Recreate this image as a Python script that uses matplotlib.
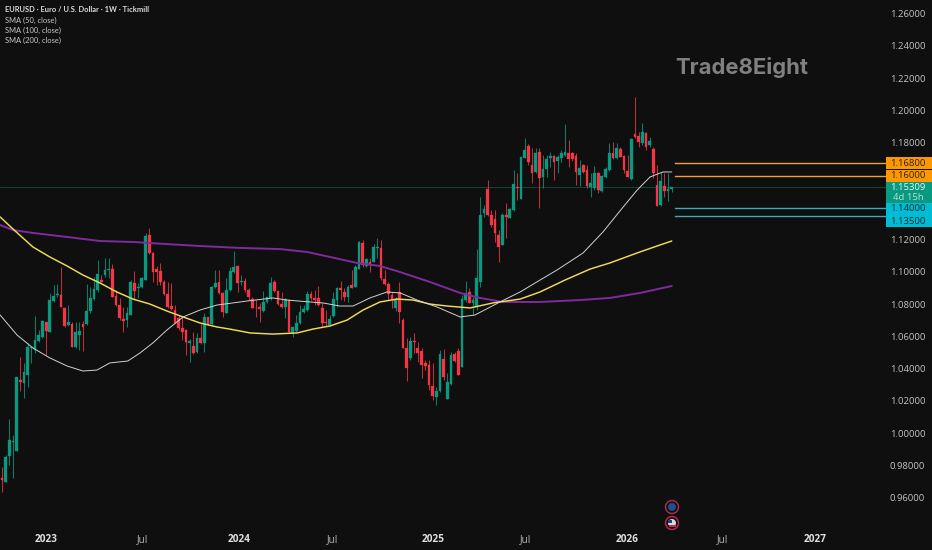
import matplotlib
matplotlib.use("Agg")
import matplotlib.pyplot as plt
from matplotlib.patches import Rectangle, Ellipse
import numpy as np

opens = [
0.9729,0.9704,0.9864,0.9952,0.9897,1.0335,1.0314,1.0366,1.0531,1.0521,
1.0577,1.0604,1.0697,1.0635,1.0827,1.0862,1.0862,1.0783,1.0676,1.0682,
1.0541,1.0614,1.0680,1.0680,1.0763,1.0835,1.0893,1.0955,1.0986,1.1017,
1.1021,1.0856,1.0800,1.0711,1.0707,1.0738,1.0938,1.0905,1.0909,1.0955,
1.1234,1.1120,1.1021,1.1013,1.0945,1.0866,1.0794,1.0769,1.0717,1.0655,
1.0645,1.0562,1.0546,1.0506,1.0593,1.0566,1.0723,1.0682,1.0909,1.0945,
1.0872,1.0748,1.0893,1.1007,1.1042,1.0943,1.0949,1.0893,1.0839,1.0784,
1.0786,1.0765,1.0821,1.0841,1.0943,1.0887,1.0806,1.0786,1.0831,1.0624,
1.0641,1.0686,1.0759,1.0769,1.0868,1.0841,1.0844,1.0779,1.0697,1.0674,
1.0732,1.0831,1.0904,1.0883,1.0852,1.0922,1.0914,1.1025,1.1187,1.1044,
1.1069,1.1069,1.1154,1.1151,1.0959,1.0930,1.0862,1.0779,1.0883,1.0707,
1.0531,1.0469,1.0579,1.0531,1.0517,1.0443,1.0428,1.0300,1.0232,1.0269,
1.0463,1.0219,1.0310,1.0494,1.0517,1.0418,1.0831,1.0883,1.0813,1.0788,
1.0943,1.1373,1.1519,1.1358,1.1331,1.1234,1.1172,1.1358,1.1342,1.1389,
1.1530,1.1457,1.1710,1.1786,1.1668,1.1627,1.1751,1.1592,1.1643,1.1712,
1.1724,1.1693,1.1710,1.1728,1.1740,1.1740,1.1726,1.1606,1.1668,1.1637,
1.1534,1.1523,1.1616,1.1509,1.1592,1.1637,1.1740,1.1710,1.1765,1.1724,
1.1631,1.1579,1.1858,1.1848,1.1803,1.1869,1.1792,1.1765,1.1544,1.1420,
1.1538,1.1507,1.1521]
highs = [
0.9797,0.9870,1.0091,0.9994,1.0355,1.0480,1.0438,1.0562,1.0541,1.0732,
1.0645,1.0707,1.0697,1.0872,1.0924,1.0928,1.1033,1.0790,1.0800,1.0697,
1.0697,1.0697,1.0701,1.0930,1.0914,1.0976,1.1079,1.0986,1.1089,1.1089,
1.1054,1.0893,1.0841,1.0790,1.0790,1.0955,1.1013,1.0934,1.0976,1.1244,
1.1275,1.1131,1.1042,1.1062,1.0955,1.0945,1.0938,1.0800,1.0738,1.0728,
1.0649,1.0587,1.0635,1.0624,1.0682,1.0748,1.0728,1.0918,1.1017,1.1017,
1.0883,1.0965,1.1038,1.1137,1.1048,1.0986,1.0965,1.0904,1.0848,1.0831,
1.0810,1.0889,1.0852,1.0976,1.0955,1.0889,1.0883,1.0841,1.0835,1.0666,
1.0738,1.0800,1.0800,1.0889,1.0889,1.0893,1.0918,1.0810,1.0769,1.0738,
1.0883,1.0914,1.0949,1.0904,1.0924,1.1017,1.1048,1.1199,1.1203,1.1089,
1.1089,1.1178,1.1214,1.1203,1.1017,1.0945,1.0883,1.0852,1.0945,1.0717,
1.0593,1.0604,1.0629,1.0573,1.0531,1.0459,1.0459,1.0438,1.0294,1.0521,
1.0525,1.0376,1.0511,1.0511,1.0531,1.0862,1.0951,1.0904,1.0850,1.1147,
1.1472,1.1420,1.1575,1.1389,1.1389,1.1265,1.1368,1.1430,1.1399,1.1637,
1.1616,1.1720,1.1834,1.1798,1.1771,1.1771,1.1771,1.1730,1.1730,1.1751,
1.1730,1.1730,1.1761,1.1922,1.1823,1.1751,1.1740,1.1699,1.1674,1.1668,
1.1616,1.1662,1.1627,1.1606,1.1654,1.1807,1.1813,1.1807,1.1782,1.1730,
1.1730,1.1834,1.2092,1.1875,1.1931,1.1875,1.1844,1.1782,1.1668,1.1627,
1.1616,1.1616,1.1534]
lows = [
0.9640,0.9704,0.9808,0.9725,0.9897,1.0269,1.0221,1.0289,1.0442,1.0500,
1.0573,1.0593,1.0490,1.0635,1.0821,1.0852,1.0785,1.0666,1.0672,1.0537,
1.0531,1.0521,1.0517,1.0676,1.0748,1.0831,1.0883,1.0945,1.0976,1.0965,
1.0847,1.0794,1.0707,1.0635,1.0666,1.0738,1.0831,1.0841,1.0903,1.0955,
1.1116,1.0945,1.0924,1.0924,1.0862,1.0779,1.0769,1.0686,1.0645,1.0583,
1.0490,1.0448,1.0496,1.0504,1.0558,1.0510,1.0676,1.0676,1.0903,1.0868,
1.0728,1.0748,1.0889,1.0996,1.0883,1.0924,1.0883,1.0831,1.0779,1.0724,
1.0697,1.0759,1.0810,1.0831,1.0883,1.0800,1.0779,1.0717,1.0629,1.0604,
1.0635,1.0682,1.0748,1.0765,1.0831,1.0800,1.0794,1.0666,1.0670,1.0670,
1.0728,1.0790,1.0831,1.0825,1.0821,1.0904,1.0910,1.1021,1.1038,1.1034,
1.1007,1.1069,1.1089,1.0955,1.0924,1.0831,1.0779,1.0765,1.0686,1.0531,
1.0331,1.0459,1.0500,1.0449,1.0345,1.0397,1.0273,1.0211,1.0180,1.0263,
1.0335,1.0215,1.0304,1.0449,1.0366,1.0414,1.0821,1.0810,1.0738,1.0769,
1.0914,1.1348,1.1352,1.1286,1.1193,1.1069,1.1172,1.1213,1.1337,1.1385,
1.1451,1.1455,1.1710,1.1668,1.1554,1.1621,1.1399,1.1523,1.1592,1.1654,
1.1575,1.1616,1.1689,1.1724,1.1654,1.1695,1.1544,1.1538,1.1616,1.1528,
1.1468,1.1513,1.1497,1.1503,1.1586,1.1633,1.1703,1.1703,1.1716,1.1616,
1.1592,1.1575,1.1834,1.1782,1.1792,1.1761,1.1782,1.1586,1.1414,1.1414,
1.1472,1.1447,1.1503]
closes = [
0.9715,0.9859,0.9963,0.9959,1.0355,1.0322,1.0386,1.0537,1.0541,1.0583,
1.0614,1.0703,1.0641,1.0831,1.0856,1.0868,1.0790,1.0670,1.0692,1.0541,
1.0632,1.0639,1.0661,1.0761,1.0841,1.0899,1.0992,1.0945,1.1017,1.1021,
1.0852,1.0800,1.0717,1.0703,1.0748,1.0945,1.0889,1.0911,1.0965,1.1228,
1.1120,1.1007,1.1007,1.0942,1.0866,1.0790,1.0773,1.0690,1.0655,1.0635,
1.0573,1.0579,1.0500,1.0593,1.0562,1.0728,1.0682,1.0914,1.0934,1.0872,
1.0759,1.0893,1.1013,1.1033,1.0938,1.0949,1.0893,1.0848,1.0784,1.0779,
1.0773,1.0821,1.0848,1.0939,1.0889,1.0806,1.0786,1.0835,1.0635,1.0662,
1.0691,1.0759,1.0773,1.0868,1.0841,1.0831,1.0800,1.0691,1.0686,1.0715,
1.0835,1.0908,1.0893,1.0848,1.0914,1.0908,1.1034,1.1193,1.1048,1.1083,
1.1054,1.1158,1.1162,1.0965,1.0930,1.0868,1.0831,1.0839,1.0759,1.0531,
1.0407,1.0579,1.0573,1.0500,1.0428,1.0422,1.0304,1.0236,1.0267,1.0494,
1.0352,1.0321,1.0490,1.0455,1.0366,1.0835,1.0877,1.0810,1.0831,1.0968,
1.1358,1.1393,1.1358,1.1296,1.1244,1.1162,1.1358,1.1344,1.1393,1.1548,
1.1523,1.1716,1.1761,1.1685,1.1621,1.1745,1.1590,1.1643,1.1705,1.1724,
1.1689,1.1720,1.1740,1.1749,1.1703,1.1703,1.1627,1.1652,1.1623,1.1538,
1.1559,1.1616,1.1513,1.1600,1.1641,1.1740,1.1710,1.1771,1.1720,1.1637,
1.1596,1.1829,1.1844,1.1813,1.1875,1.1782,1.1817,1.1616,1.1416,1.1571,
1.1509,1.1517,1.1531]

sma50_idx = [-0.5,4.1,8.4,13,17.7,22,25.8,29.3,34.2,37.5,41,44.8,49.2,53.8,58.4,64.7,66.6,73.6,77.4,83.7,87.2,91.8,95.4,100,104.6,108.2,112.8,118.2,124.5,128.5,135.3,140.8,146.2,150.8,157.9,163.3,168.8,172.6,176.1,179.6,182]
sma50 = [1.0738,1.0614,1.0534,1.0472,1.0422,1.0391,1.0397,1.0441,1.0453,1.0503,1.0565,1.0645,1.0726,1.0769,1.0800,1.0819,1.0825,1.0844,1.0831,1.0819,1.0813,1.0794,1.0794,1.0844,1.0881,1.0875,1.0831,1.0788,1.0726,1.0738,1.0819,1.0881,1.0955,1.1017,1.1123,1.1253,1.1408,1.1513,1.1594,1.1625,1.1625]
sma100_idx = [-0.5,3,8.4,13,17.7,22,26.6,31.2,35.6,40.2,44.8,49.2,53.8,58.4,61.9,67.4,73.6,80.2,84.5,89.1,93.8,98.1,102.7,107.3,111.7,116.3,120.9,127.2,133.4,140.8,146.2,153,159.8,165.2,172.6,178,182]
sma100 = [1.1346,1.1271,1.1160,1.1098,1.1042,1.0986,1.0937,1.0881,1.0837,1.0806,1.0763,1.0726,1.0689,1.0664,1.0651,1.0627,1.0620,1.0627,1.0651,1.0670,1.0707,1.0769,1.0819,1.0837,1.0831,1.0806,1.0794,1.0782,1.0813,1.0837,1.0881,1.0955,1.1023,1.1061,1.1123,1.1166,1.1197]
sma200_idx = [-0.5,3,8.4,17.7,26.6,35.6,44.8,53.8,64.7,75.5,82.9,89.1,96.5,102.7,107.3,116.3,124.5,129.9,136.1,146.2,157.1,165.2,173.4,182]
sma200 = [1.1296,1.1265,1.1247,1.1222,1.1197,1.1191,1.1178,1.1166,1.1154,1.1147,1.1129,1.1098,1.1061,1.1042,1.1011,1.0943,1.0875,1.0844,1.0819,1.0819,1.0831,1.0844,1.0875,1.0918]

price_ticks = [1.26,1.24,1.22,1.20,1.18,1.16,1.14,1.12,1.10,1.08,1.06,1.04,1.02,1.00,0.98,0.96]
time_idx = [12,38.3,64.4,89.7,117.1,142.4,169.8,195.7,220.9]
time_labels = ["2023","Jul","2024","Jul","2025","Jul","2026","Jul","2027"]
orange_levels = [1.168,1.16]
cyan_levels = [1.14,1.135]
last_price = 1.15309
countdown = "4d 15h"
legend_lines = ["EURUSD · Euro / U.S. Dollar · 1W · Tickmill","SMA (50, close)","SMA (100, close)","SMA (200, close)"]
watermark = "Trade8Eight"

BG = "#0f0f0f"
UP = "#089981"
DOWN = "#f23645"
W, H = 932, 550
AXR = 886
AXB = 526

plt.rcParams["font.family"] = ["Open Sans", "DejaVu Sans"]
fig = plt.figure(figsize=(W/100, H/100), dpi=100, facecolor=BG)
ax = fig.add_axes([0, 1-AXB/H, AXR/W, AXB/H], facecolor=BG)
PXW = 3.68
SCALE = 1613.0
ax.set_xlim(-2/PXW, (AXR-2)/PXW)
ax.set_ylim(1.16+(176-AXB)/SCALE, 1.16+176/SCALE)
for s in ax.spines.values():
    s.set_visible(False)
ax.set_xticks([]); ax.set_yticks([])

x = np.arange(len(closes))
o, h_, l, c = map(np.array, (opens, highs, lows, closes))
up = c >= o
cols = np.where(up, UP, DOWN)
ax.vlines(x, l, h_, colors=cols, lw=0.75, zorder=2, alpha=0.8)
ax.bar(x, np.abs(c-o), bottom=np.minimum(o, c), width=0.74, color=cols, linewidth=0.2, edgecolor=cols, zorder=3)

ax.plot(sma200_idx, sma200, color="#7f2a9e", lw=1.4, zorder=4, solid_capstyle="round", solid_joinstyle="round")
ax.plot(sma100_idx, sma100, color="#f0dc55", lw=1.05, zorder=5, solid_capstyle="round", solid_joinstyle="round")
ax.plot(sma50_idx, sma50, color="#d2d2d2", lw=0.7, zorder=6, solid_capstyle="round", solid_joinstyle="round")

ax.axhline(last_price, color="#0d4f44", lw=0.6, zorder=1)
x_start = (675-2)/PXW
for lv in orange_levels:
    ax.plot([x_start, ax.get_xlim()[1]], [lv, lv], color="#f0a030", lw=1.0, zorder=4)
for lv in cyan_levels:
    ax.plot([x_start, ax.get_xlim()[1]], [lv, lv], color="#3fa8bd", lw=1.0, zorder=4)

def fx(px): return px/W
def fy(py): return 1-py/H

for p in price_ticks:
    py = 176 + (1.16-p)*SCALE
    fig.text(fx(907.5), fy(py), f"{p:.5f}", color="#c4c4c4", fontsize=6.8, ha="center", va="center")
for i, lab_ in zip(time_idx, time_labels):
    bold = lab_ != "Jul"
    px = 2 + i*PXW
    fig.text(fx(px), fy(539.5), lab_, color="#e0e0e0" if bold else "#b4b4b4", fontsize=7.2,
             fontweight="bold" if bold else "normal", ha="center", va="center")

def box(y0, y1, col):
    fig.add_artist(Rectangle((fx(886), fy(y1)), (W-886)/W, (y1-y0)/H, transform=fig.transFigure,
                             facecolor=col, edgecolor="none", zorder=10))
def lab(y, s, col):
    fig.text(fx(908), fy(y), s, color=col, fontsize=6.8, ha="center", va="center", zorder=11)

box(157, 169.5, "#ff9800"); lab(163, f"{orange_levels[0]:.5f}", "#222222")
box(169.5, 182, "#ff9800"); lab(175.5, f"{orange_levels[1]:.5f}", "#222222")
box(182, 203, "#089981"); lab(187, f"{last_price:.5f}", "#e8f5f2"); lab(197, countdown, "#b8e0d8")
box(203, 215, "#00bcd4"); lab(208.5, f"{cyan_levels[0]:.5f}", "#0c2a30")
box(215, 227, "#00bcd4"); lab(221, f"{cyan_levels[1]:.5f}", "#0c2a30")

for i, (s, y) in enumerate(zip(legend_lines, [10, 20, 30, 40.5])):
    fig.text(fx(5), fy(y), s, color="#dcdcdc" if i == 0 else "#c8c8c8", fontsize=5.4,
             fontweight="bold" if i == 0 else "normal", family=["Lato", "DejaVu Sans"], ha="left", va="center")

fig.text(fx(675.5), fy(67), watermark, color="#808080", fontsize=15.9, fontweight="bold",
         family=["Inter", "DejaVu Sans"], ha="left", va="center")

# event markers under the last candle
for py, fill in ((507, "#1d4f91"), (523, "#d9d9e0")):
    fig.add_artist(Ellipse((fx(672), fy(py)), 13/W, 13/H, transform=fig.transFigure,
                   facecolor="#0f0f0f", edgecolor="#b3304a", lw=1.0, zorder=10))
    fig.add_artist(Ellipse((fx(672), fy(py)), 8/W, 8/H, transform=fig.transFigure,
                   facecolor=fill, edgecolor="none", zorder=11))
fig.add_artist(Rectangle((fx(668), fy(523)), 4/W, 3.5/H, transform=fig.transFigure, facecolor="#2a3f7a", edgecolor="none", zorder=12))
fig.add_artist(Rectangle((fx(668.5), fy(527)), 7/W, 2/H, transform=fig.transFigure, facecolor="#c43048", edgecolor="none", zorder=12))

fig.savefig("out.png", dpi=100, facecolor=BG)
